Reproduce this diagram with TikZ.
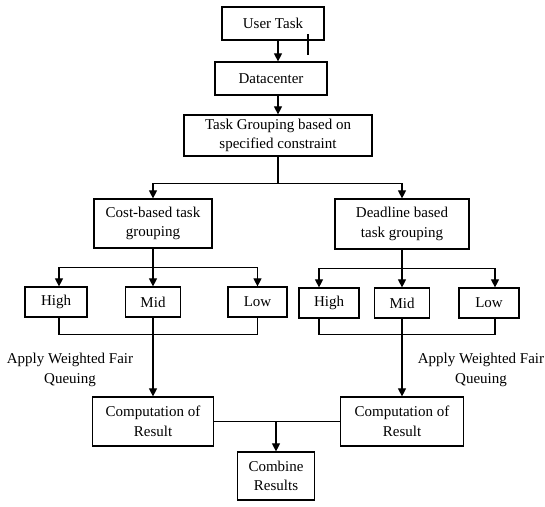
\documentclass[tikz,border=0pt]{standalone}
\usepackage{fontspec}
\setmainfont{Liberation Serif}
\usetikzlibrary{arrows.meta,calc}
\begin{document}
\begin{tikzpicture}[x=1pt,y=-1pt,
  box/.style={draw,line width=1.2pt,align=center,inner sep=0pt,
              font=\fontsize{15}{19.5}\selectfont},
  arr/.style={line width=1.1pt,-{Triangle[length=8pt,width=8pt]}},
  ln/.style={line width=1.1pt},
  lbl/.style={align=center,font=\fontsize{15}{19.5}\selectfont}]
\useasboundingbox[fill=white] (0,0) rectangle (545,506);

% top chain
\node[box,minimum width=102pt,minimum height=33pt] (user) at (273,23.5) {User Task};
\node[box,minimum width=112pt,minimum height=33pt] (dc) at (271,78.5) {Datacenter};
\node[box,minimum width=188pt,minimum height=41pt] (tg) at (278,135.5)
  {Task Grouping based on\\specified constraint};

% grouping kinds
\node[box,minimum width=118pt,minimum height=49pt] (cost) at (153,223.5)
  {Cost-based task\\grouping};
\node[box,minimum width=134pt,minimum height=50pt] (dead) at (402,224)
  {Deadline based\\task grouping};

% priority levels, cost side
\node[box,minimum width=62pt,minimum height=30pt] (lh) at (56,302) {High};
\node[box,minimum width=55pt,minimum height=30pt] (lm) at (153,302) {Mid};
\node[box,minimum width=59pt,minimum height=30pt] (ll) at (257.5,302) {Low};

% priority levels, deadline side
\node[box,minimum width=60pt,minimum height=30pt] (rh) at (329,303) {High};
\node[box,minimum width=55pt,minimum height=30pt] (rm) at (402,303) {Mid};
\node[box,minimum width=60pt,minimum height=30pt] (rl) at (489,303) {Low};

% computation and merge
\node[box,minimum width=121pt,minimum height=49pt] (lc) at (153,421.5)
  {Computation of\\Result};
\node[box,minimum width=123pt,minimum height=49pt] (rc) at (402,421.5)
  {Computation of\\Result};
\node[box,minimum width=77pt,minimum height=48pt] (comb) at (276,476)
  {Combine\\Results};

% side labels
\node[lbl] (wl) at (70,370) {Apply Weighted Fair\\Queuing};
\node[lbl] (wr) at (481,370) {Apply Weighted Fair\\Queuing};

% connectors: top chain
\draw[arr] (user.south -| tg.north) -- (dc.north -| tg.north);
\draw[arr] (dc.south -| tg.north) -- (tg.north);
\draw[ln,line width=2.2pt] (308,34) -- (308,55);

% split into the two groupings
\coordinate (split) at ($(tg.south)+(0,27)$);
\draw[ln] (tg.south) -- (split);
\draw[arr] (split) -| (cost.north);
\draw[arr] (split) -| (dead.north);

% cost side fan-out and gather
\coordinate (cs) at ($(cost.south)+(0,19)$);
\draw[ln] (cost.south) -- (cs);
\draw[arr] (cs) -| ($(lh.north)+(3,0)$);
\draw[arr] (cs) -- (lm.north);
\draw[arr] (cs) -| (ll.north);
\draw[ln] ($(lh.south)+(3,0)$) -- ++(0,17) -| (ll.south);
\draw[arr] (lm.south) -- (lc.north);

% deadline side fan-out and gather
\coordinate (ds) at ($(dead.south)+(0,19)$);
\draw[ln] (dead.south) -- (ds);
\draw[arr] (ds) -| ($(rh.north)+(-10,0)$);
\draw[arr] (ds) -- (rm.north);
\draw[arr] (ds) -| ($(rl.north)+(6,0)$);
\draw[ln] ($(rh.south)+(-10,0)$) -- ++(0,16) -| ($(rl.south)+(6,0)$);
\draw[arr] (rm.south) -- (rc.north);

% merge results
\draw[ln] (lc.east) -- (rc.west);
\draw[arr] (lc.east -| comb.north) -- (comb.north);
\end{tikzpicture}
\end{document}
